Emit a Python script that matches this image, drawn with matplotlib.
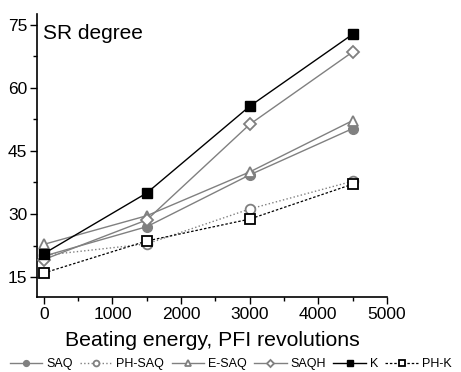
import matplotlib.pyplot as plt
from matplotlib.ticker import MultipleLocator

plt.rcParams['font.family'] = ['Liberation Sans', 'DejaVu Sans']

energy = [0, 1500, 3000, 4500]
saq = [20.0, 27.0, 39.3, 50.3]
ph_saq = [20.2, 22.9, 31.2, 37.8]
e_saq = [22.8, 29.6, 40.0, 52.2]
saqh = [19.2, 28.6, 51.3, 68.5]
k = [20.6, 35.0, 55.6, 72.7]
ph_k = [16.0, 23.6, 28.8, 37.1]

gray = '#808080'

fig = plt.figure(figsize=(4.61, 3.72), dpi=100)
ax = fig.add_axes([37 / 461, 1 - 297 / 372, 350 / 461, 283 / 372])

ax.plot(energy, saq, '-', color=gray, lw=1, marker='o', ms=7, mfc=gray, mec=gray, label='SAQ', zorder=3)
ax.plot(energy, ph_saq, ':', color=gray, lw=1, marker='o', ms=7, mfc='white', mec=gray, mew=1.3, label='PH-SAQ', zorder=3)
ax.plot(energy, e_saq, '-', color=gray, lw=1, marker='^', ms=7, mfc='white', mec=gray, mew=1.3, label='E-SAQ', zorder=3)
ax.plot(energy, saqh, '-', color=gray, lw=1, marker='D', ms=6, mfc='white', mec=gray, mew=1.3, label='SAQH', zorder=3)
ax.plot(energy, k, '-', color='black', lw=1, marker='s', ms=6.5, mfc='black', mec='black', label='K', zorder=4)
ax.plot(energy, ph_k, '--', color='black', lw=0.9, dashes=(2, 1.5), marker='s', ms=6.5, mfc='white', mec='black', mew=1.3, label='PH-K', zorder=4)

ax.set_xlim(-100, 5000)
ax.set_ylim(10.3, 77.5)
ax.xaxis.set_major_locator(MultipleLocator(1000))
ax.xaxis.set_minor_locator(MultipleLocator(500))
ax.yaxis.set_major_locator(MultipleLocator(15))
ax.yaxis.set_minor_locator(MultipleLocator(7.5))
ax.tick_params(which='major', direction='out', length=5, width=1, labelsize=12.5, pad=2)
ax.tick_params(which='minor', direction='out', length=3, width=1)
for s in ['top', 'right']:
    ax.spines[s].set_visible(False)
for s in ['left', 'bottom']:
    ax.spines[s].set_linewidth(1.2)

ax.text(0.017, 0.965, 'SR degree', transform=ax.transAxes, fontsize=15, va='top', ha='left')
ax.set_xlabel('Beating energy, PFI revolutions', fontsize=15.3, labelpad=7)

fig.legend(loc='lower center', bbox_to_anchor=(0.5, -0.025), ncol=6, frameon=False,
           fontsize=9, markerscale=0.6, handlelength=2.6, handletextpad=0.3, columnspacing=0.6)

fig.savefig('out.png', dpi=100)
